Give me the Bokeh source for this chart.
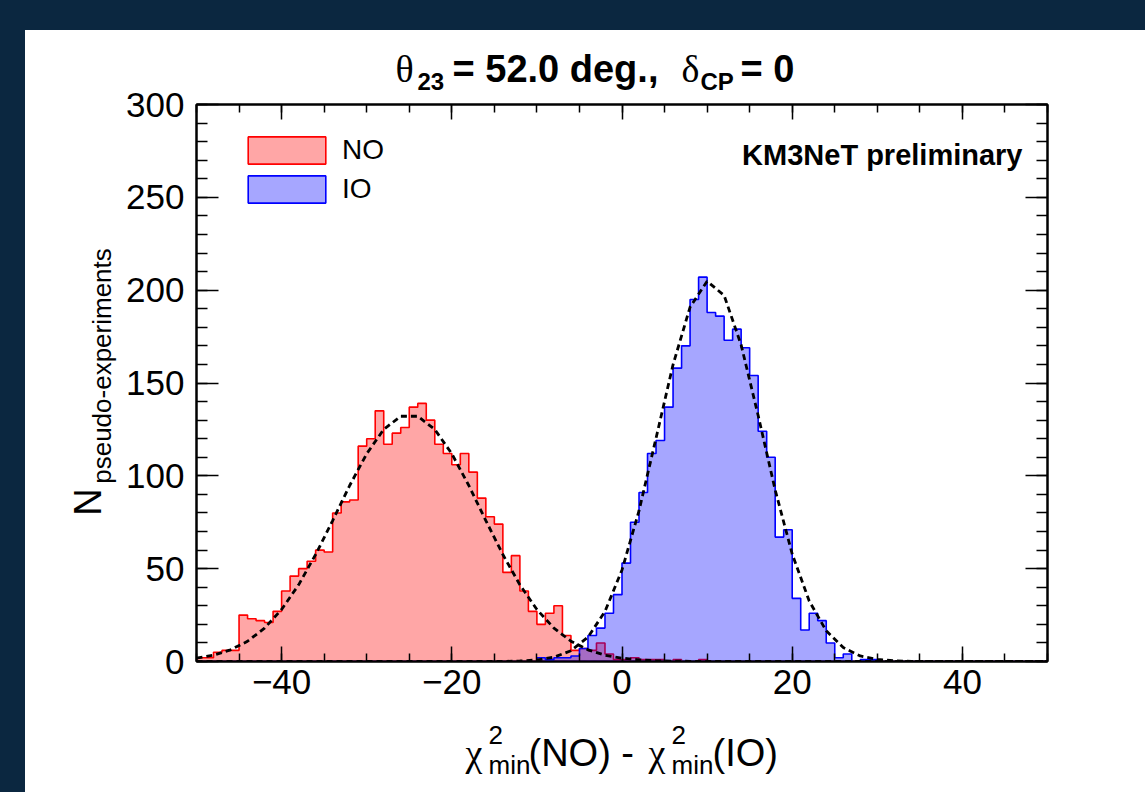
import numpy as np
from bokeh.plotting import figure
from bokeh.models import (Range1d, LinearAxis, FixedTicker, Label, Legend, LegendItem, Spacer,
                          CustomJSTickFormatter)
from bokeh.layouts import column, row
from bokeh.embed import file_html
from bokeh.resources import INLINE
from bokeh.core.properties import value

# ---------------- data ----------------
bin_edges = list(range(-50, 51))  # 1-unit bins from -50 to 50

no_counts = [2, 2, 5, 6, 6, 25, 23, 22, 21, 27,
             38, 46, 50, 54, 60, 59, 80, 86, 87, 116,
             120, 135, 117, 123, 126, 137, 139, 130, 117, 112,
             106, 112, 102, 88, 78, 74, 48, 57, 38, 27,
             20, 26, 30, 14, 6, 7, 6, 10, 4, 1,
             1, 2, 1, 1, 1, 0, 1, 0, 0, 1,
             0, 0, 0, 0, 0, 0, 0, 0, 0, 0,
             0, 0, 0, 0, 0, 0, 0, 0, 0, 0,
             0, 0, 0, 0, 0, 0, 0, 0, 0, 0,
             0, 0, 0, 0, 0, 0, 0, 0, 0, 0]

io_counts = [0, 0, 0, 0, 0, 0, 0, 0, 0, 0,
             0, 0, 0, 0, 0, 0, 0, 0, 0, 0,
             0, 0, 0, 0, 0, 0, 0, 0, 0, 0,
             0, 0, 0, 0, 0, 0, 0, 0, 0, 0,
             2, 1, 2, 2, 3, 7, 14, 18, 26, 36,
             53, 75, 91, 112, 119, 137, 158, 170, 195, 207,
             188, 186, 173, 179, 169, 154, 124, 110, 67, 71,
             34, 17, 26, 22, 10, 2, 4, 0, 1, 1,
             0, 0, 0, 0, 0, 0, 0, 0, 0, 0,
             0, 0, 0, 0, 0, 0, 0, 0, 0, 0]

# fitted curves, read every 2 units from -50 to 50
fit_x = list(range(-50, 51, 2))
no_fit = [1.8, 3.4, 6.3, 10.9, 18.0, 28.0, 41.3, 57.6, 75.9, 94.8,      # -50 .. -32
          111.9, 125.0, 132.1, 132.1, 125.0, 111.9, 94.8, 75.9, 57.6, 41.3,  # -30 .. -12
          28.0, 18.0, 10.9, 6.3, 3.4, 1.8, 0.9, 0.4, 0.2, 0.1,          # -10 .. 8
          0, 0, 0, 0, 0, 0, 0, 0, 0, 0,                                 # 10 .. 28
          0, 0, 0, 0, 0, 0, 0, 0, 0, 0, 0]                              # 30 .. 50
io_fit = [0, 0, 0, 0, 0, 0, 0, 0, 0, 0,                                 # -50 .. -32
          0, 0, 0, 0, 0, 0, 0, 0, 0, 0.3,                               # -30 .. -12
          0.8, 2.3, 5.8, 13.1, 26.9, 49.3, 81.2, 120.3, 159.9, 190.9,   # -10 .. 8
          204.8, 197.2, 170.5, 132.5, 92.4, 57.9, 32.6, 16.5, 7.5, 3.0,  # 10 .. 28
          1.1, 0.4, 0.1, 0, 0, 0, 0, 0, 0, 0, 0]                        # 30 .. 50

y_major = [0, 50, 100, 150, 200, 250, 300]
y_minor = list(range(0, 301, 10))
x_major = [-40, -20, 0, 20, 40]
x_minor = list(range(-50, 51, 5))
x_tick_labels = {-40: "\u221240", -20: "\u221220", 0: "0", 20: "20", 40: "40"}

NAVY = "#0b2740"
SANS = "Liberation Sans"
SERIF = "Liberation Serif"

# ---------------- main figure ----------------
# transparent border so it can overlap the title strip slightly (room for the top tick label)
p = figure(width=1024, height=640, output_backend="svg", toolbar_location=None,
           x_range=Range1d(-50, 50), y_range=Range1d(0, 300),
           min_border_left=75, min_border_right=98, min_border_top=24, min_border_bottom=59,
           x_axis_location=None, y_axis_location=None, margin=(-16, 0, 0, 0))
p.border_fill_color = "white"
p.border_fill_alpha = 0
p.background_fill_color = "white"
p.outline_line_color = "black"
p.outline_line_width = 2
p.xgrid.visible = False
p.ygrid.visible = False


def step_polygon(edges, counts):
    xs, ys = [edges[0]], [0]
    for i, c in enumerate(counts):
        xs += [edges[i], edges[i + 1]]
        ys += [c, c]
    xs.append(edges[-1]); ys.append(0)
    return xs, ys


hist_r = []
for counts, col in ((no_counts, "red"), (io_counts, "blue")):
    px, py = step_polygon(bin_edges, counts)
    hist_r.append(p.patch(px, py, fill_color=col, fill_alpha=0.35, line_color=col, line_width=1.6))

p.line(fit_x, no_fit, line_color="black", line_width=2.8, line_dash="6 4")
p.line(fit_x, io_fit, line_color="black", line_width=2.8, line_dash="6 4")

leg = Legend(items=[LegendItem(label="NO", renderers=[hist_r[0]]),
                    LegendItem(label="IO", renderers=[hist_r[1]])],
             location=(42, 455), glyph_width=97, glyph_height=34, label_height=34, spacing=5,
             padding=0, margin=0, label_standoff=7, label_text_font=SANS, label_text_font_size="28px",
             label_text_color="black", border_line_color=None, background_fill_alpha=0)
p.add_layout(leg)


def make_axis(ticks, minor, tin, tmin, labels):
    ax = LinearAxis(ticker=FixedTicker(ticks=ticks, minor_ticks=minor))
    ax.major_tick_in = tin
    ax.major_tick_out = 0
    ax.minor_tick_in = tmin
    ax.minor_tick_out = 0
    ax.axis_line_width = 2
    ax.major_tick_line_width = 1.5
    ax.minor_tick_line_width = 1.5
    ax.major_label_text_font = SANS
    ax.major_label_text_font_size = "35px"
    ax.major_label_text_color = "black"
    if labels is None:
        ax.formatter = CustomJSTickFormatter(code="return ''")
        ax.major_label_text_font_size = "1px"
        ax.major_label_standoff = 0
        ax.major_label_text_color = None
    elif labels != "num":
        ax.major_label_overrides = labels
    return ax


ax_left = make_axis(y_major, y_minor, 22, 11, "num")
ax_left.major_label_standoff = 12
ax_right = make_axis(y_major, y_minor, 22, 11, None)
ax_bottom = make_axis(x_major, x_minor, 15, 8, x_tick_labels)
ax_bottom.major_label_standoff = 8
ax_top = make_axis(x_major, x_minor, 15, 8, None)
p.add_layout(ax_left, "left")
p.add_layout(ax_right, "right")
p.add_layout(ax_bottom, "below")
p.add_layout(ax_top, "above")

p.add_layout(Label(x=826, y=507, x_units="screen", y_units="screen", text="KM3NeT preliminary",
                   text_font=SANS, text_font_size="29px", text_font_style="bold",
                   text_align="right", text_baseline="alphabetic", text_color="black"))


# ---------------- text strips (title, axis titles) ----------------
def text_fig(w, h):
    f = figure(width=w, height=h, x_range=Range1d(0, w), y_range=Range1d(0, h),
               output_backend="svg", toolbar_location=None, min_border=0,
               x_axis_location=None, y_axis_location=None)
    f.outline_line_color = None
    f.xgrid.visible = False
    f.ygrid.visible = False
    f.border_fill_color = "white"
    f.background_fill_color = "white"
    return f


def put(f, x, y, text, size, font=SANS, style="normal", angle=0.0):
    f.text(x=[x], y=[y], text=[text], text_font=value(font), text_font_size=value(size),
           text_font_style=style, text_align="left", text_baseline="alphabetic",
           angle=angle, text_color="black")


title_fig = text_fig(1120, 66)
put(title_fig, 370, 28, "\u03b8", "38px", font=SERIF)
put(title_fig, 392, 15, "23", "24px", style="bold")
put(title_fig, 427, 28, "= 52.0 deg.,", "38px", style="bold")
put(title_fig, 656, 28, "\u03b4", "38px", font=SERIF)
put(title_fig, 675, 15, "CP", "24px", style="bold")
put(title_fig, 715, 28, "= 0", "38px", style="bold")

ylab_fig = text_fig(96, 624)
put(ylab_fig, 62, 168, "N", "38px", angle=np.pi / 2)
put(ylab_fig, 76, 205, "pseudo-experiments", "26px", angle=np.pi / 2)

xlab_fig = text_fig(1120, 72)
put(xlab_fig, 440, 40, "\u03c7", "38px", font=SERIF)
put(xlab_fig, 463, 58, "2", "26px")
put(xlab_fig, 463, 28, "min", "26px")
put(xlab_fig, 503, 40, "(NO) -", "38px")
put(xlab_fig, 623, 40, "\u03c7", "38px", font=SERIF)
put(xlab_fig, 646, 58, "2", "26px")
put(xlab_fig, 646, 28, "min", "26px")
put(xlab_fig, 687, 40, "(IO)", "38px")

content = column(title_fig, row(ylab_fig, p), xlab_fig)
top_band = Spacer(width=1145, height=30, styles={"background-color": NAVY})
left_band = Spacer(width=25, height=762, styles={"background-color": NAVY})
layout = column(top_band, row(left_band, content))

open("out.html", "w").write(file_html(layout, INLINE))
